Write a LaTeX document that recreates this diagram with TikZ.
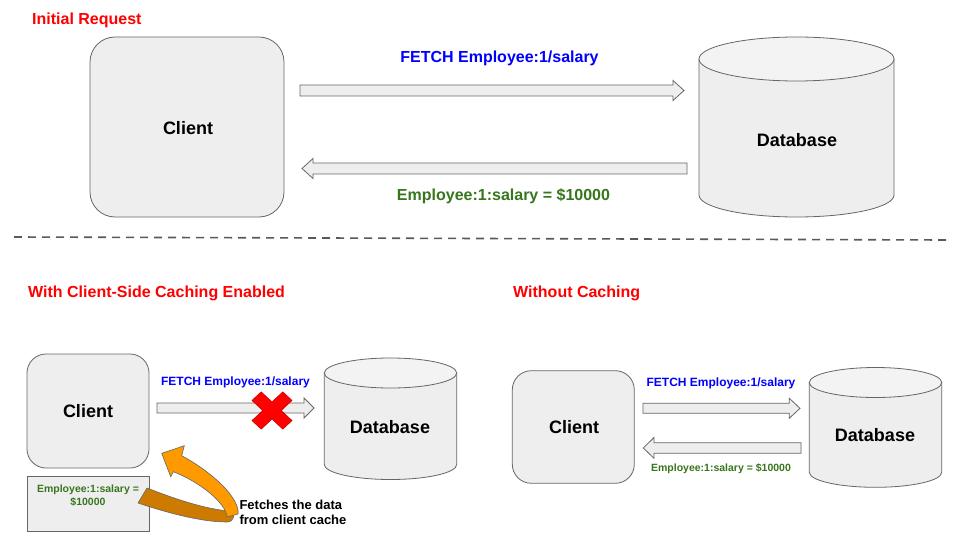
\documentclass[tikz,border=0pt]{standalone}
\usepackage{fontspec}
\setmainfont{Liberation Sans}
\definecolor{boxfill}{HTML}{EEEEEE}
\definecolor{topfill}{HTML}{F3F3F3}
\definecolor{edge}{HTML}{666666}
\definecolor{titlered}{HTML}{FF0000}
\definecolor{fetchblue}{HTML}{0000FF}
\definecolor{valgreen}{HTML}{38761D}
\definecolor{darkorange}{HTML}{CC7A00}
\definecolor{lightorange}{HTML}{FF9900}
\definecolor{xred}{HTML}{FF0000}
\definecolor{xedge}{HTML}{CC0000}
\definecolor{sepgray}{HTML}{595959}
\newcommand{\fsz}[1]{\fontsize{#1}{#1}\selectfont\bfseries}
\tikzset{
  shapebox/.style={draw=edge, fill=boxfill, line width=0.8pt},
  blockarr/.style={draw=edge, fill=boxfill, line width=0.8pt, line join=miter},
  txt/.style={inner sep=0pt, anchor=base},
  title/.style={inner sep=0pt, anchor=base west, text=titlered, font=\fsz{16}},
  fetch/.style={txt, text=fetchblue},
  val/.style={txt, text=valgreen},
}
\begin{document}
\begin{tikzpicture}[x=1pt,y=-1pt]
\useasboundingbox[fill=white] (0,0) rectangle (960,540);

% ---------- titles
\node[title] (t1) at (32,25) {Initial Request};
\node[title] (t2) at (28,297.7) {With Client-Side Caching Enabled};
\node[title] (t3) at (513,297.7) {Without Caching};

% ---------- separator
\coordinate (sepL) at (14,237);
\coordinate (sepR) at (946,240);
\draw[sepgray, line width=1.6pt, dash pattern=on 8pt off 6pt] (sepL) -- (sepR);

% ========== TOP SECTION
\draw[shapebox, rounded corners=25pt] (90,37) rectangle (284,217);
\node[txt, font=\fsz{18}] (client1) at (188,134.5) {Client};

% cylinder top
\draw[shapebox] (699,59) -- (699,195) arc[start angle=180, end angle=0, x radius=97.5, y radius=22] -- (894,59) -- cycle;
\draw[draw=edge, fill=topfill, line width=0.8pt] (796.5,59) ellipse[x radius=97.5, y radius=22];
\node[txt, font=\fsz{18}] (db1) at (797,146.5) {Database};

% arrows top
\draw[blockarr] (300,85) -- (673,85) -- (673,80.5) -- (684,90.5) -- (673,100.5) -- (673,96) -- (300,96) -- cycle;
\draw[blockarr] (687,163) -- (313,163) -- (313,158.5) -- (302,168.5) -- (313,178.5) -- (313,174) -- (687,174) -- cycle;
\node[fetch, font=\fsz{16}] (f1) at (499.5,62.7) {FETCH Employee:1/salary};
\node[val, font=\fsz{16}] (v1) at (503.5,200.7) {Employee:1:salary = \$10000};

% ========== BOTTOM LEFT
\draw[shapebox, rounded corners=19pt] (27,354) rectangle (149,468);
\node[txt, font=\fsz{18}] (client2) at (88,417.5) {Client};

\draw[shapebox] (27,476) rectangle (149,531);
\node[val, font=\fsz{10.5}, align=center] (cache) at (88,492.8) {Employee:1:salary =};
\node[val, font=\fsz{10.5}] (cache2) at (88,505.8) {\$10000};

\draw[shapebox] (324.3,373) -- (324.3,464.5) arc[start angle=180, end angle=0, x radius=66.2, y radius=15] -- (456.7,373) -- cycle;
\draw[draw=edge, fill=topfill, line width=0.8pt] (390.5,373) ellipse[x radius=66.2, y radius=15];
\node[txt, font=\fsz{18}] (db2) at (390,433.5) {Database};

\draw[blockarr] (157,403) -- (304,403) -- (304,398) -- (314,408) -- (304,418) -- (304,413) -- (157,413) -- cycle;
\node[fetch, font=\fsz{12}] (f2) at (235.5,385.3) {FETCH Employee:1/salary};

% red X
\begin{scope}[shift={(272,410.5)}, yscale=0.93, rotate=45]
\fill[xred, draw=xedge, line width=0.6pt]
  (6.5,21.8) -- (6.5,6.5) -- (21.8,6.5) -- (21.8,-6.5) -- (6.5,-6.5) -- (6.5,-21.8)
  -- (-6.5,-21.8) -- (-6.5,-6.5) -- (-21.8,-6.5) -- (-21.8,6.5) -- (-6.5,6.5) -- (-6.5,21.8) -- cycle;
\end{scope}

% curved orange arrow
\draw[fill=darkorange, draw=edge, line width=0.6pt, line join=round]
  (147,488) .. controls (175,499) and (205,509) .. (229,511)
  .. controls (236,512) and (235,522) .. (227,522)
  .. controls (200,522) and (165,512) .. (138,503) -- cycle;
\draw[fill=lightorange, draw=edge, line width=0.6pt, line join=miter]
  (181.7,455.7) .. controls (212,472) and (240,498) .. (238,514)
  -- (227,517)
  .. controls (226,503) and (200,482) .. (173.3,471.7)
  -- (170.7,476.7) -- (161.7,453.3) -- (184.3,445.7) -- cycle;

\node[inner sep=0pt, anchor=base west, font=\fsz{13}] (fetchnote) at (239.3,509.7) {Fetches the data};
\node[inner sep=0pt, anchor=base west, font=\fsz{13}] (fetchnote2) at (239.3,524.7) {from client cache};

% ========== BOTTOM RIGHT
\draw[shapebox, rounded corners=19pt] (512.3,370.7) rectangle (634.3,483.3);
\node[txt, font=\fsz{18}] (client3) at (574,433.8) {Client};

\draw[shapebox] (809.3,382.5) -- (809.3,472.3) arc[start angle=180, end angle=0, x radius=66.2, y radius=15] -- (941.7,382.5) -- cycle;
\draw[draw=edge, fill=topfill, line width=0.8pt] (875.5,382.5) ellipse[x radius=66.2, y radius=15];
\node[txt, font=\fsz{18}] (db3) at (875,441.5) {Database};

\draw[blockarr] (643,403.3) -- (789.3,403.3) -- (789.3,398.3) -- (800,408.3) -- (789.3,418.3) -- (789.3,413.3) -- (643,413.3) -- cycle;
\draw[blockarr] (801,442.7) -- (654,442.7) -- (654,437.5) -- (643.3,448) -- (654,458.3) -- (654,453.3) -- (801,453.3) -- cycle;
\node[fetch, font=\fsz{12}] (f3) at (721,386) {FETCH Employee:1/salary};
\node[val, font=\fsz{10.5}] (v3) at (721,471) {Employee:1:salary = \$10000};
\end{tikzpicture}
\end{document}
